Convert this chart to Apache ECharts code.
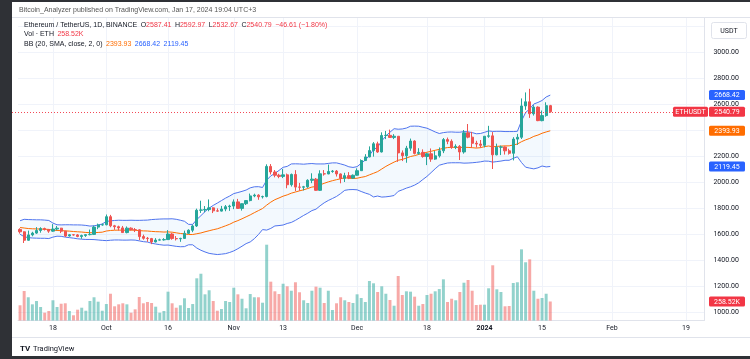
<!DOCTYPE html>
<html><head><meta charset="utf-8">
<script src="https://cdn.jsdelivr.net/npm/echarts@6/dist/echarts.min.js"></script>
<style>html,body{margin:0;padding:0;background:#fff;overflow:hidden}#c{width:750px;height:359px}</style>
</head><body><div id="c"></div>
<script>
// ---- data (ETH/USDT, 1D, Binance) ----
const firstDay = [2023, 8, 10];   // Sep 10 2023, first category
const dayCount = 167;              // categories shown on the time axis (through Feb 23 2024)
const tickDates = ['2023-09-18','2023-10-01','2023-10-16','2023-11-01','2023-11-13','2023-12-01','2023-12-18','2024-01-01','2024-01-15','2024-02-01','2024-02-19'];
const tickLabels = ['18','Oct','16','Nov','13','Dec','18','2024','15','Feb','19'];
const priceTicks = [1000,1200,1400,1600,1800,2000,2200,2400,2600,2800,3000,3200];
const priceLabels = [1000,1200,1400,1600,1800,2000,2200,2600,2800,3000];

const opens = [1635,1617,1552,1593,1607,1627,1642,1635,1622,1638,1645,1622,1585,1594,1593,1581,1588,1595,1597,1653,1670,
1671,1733,1663,1656,1647,1611,1645,1633,1632,1580,1567,1565,1539,1553,1555,1557,1600,1565,1563,1566,1605,1629,1662,1783,1785,1788,1801,1778,1776,1792,1810,
1815,1847,1797,1833,1857,1893,1899,1886,1888,2120,2077,2052,2043,2055,1979,2058,1961,1960,1963,2013,2022,1936,2063,2062,2081,2084,2062,2028,2049,2030,
2052,2087,2165,2193,2242,2294,2231,2358,2359,2343,2352,2224,2202,2260,2315,2220,2228,2196,2217,2176,2201,2240,2326,2313,2267,2274,2231,2378,2345,2298,2292,
2282,2352,2355,2209,2268,2269,2240,2221,2330,2344,2585,2617,2525,2576,2472,2511,2587.41];
const closes = [1617,1552,1593,1607,1627,1642,1635,1622,1638,1645,1622,1585,1594,1593,1581,1588,1595,1597,1653,1670,1671,
1733,1663,1656,1647,1611,1645,1633,1632,1580,1567,1565,1539,1553,1555,1557,1600,1565,1563,1566,1605,1629,1662,1783,1785,1788,1801,1778,1776,1792,1810,1815,
1847,1797,1833,1857,1893,1899,1886,1888,2120,2077,2052,2043,2055,1979,2058,1961,1960,1963,2013,2022,1936,2063,2062,2081,2084,2062,2028,2049,2030,2052,
2087,2165,2193,2242,2294,2231,2358,2359,2343,2352,2224,2202,2260,2315,2220,2228,2196,2217,2176,2201,2240,2326,2313,2267,2274,2231,2378,2345,2298,2292,2282,
2352,2355,2209,2268,2269,2240,2221,2330,2344,2585,2617,2525,2576,2472,2511,2587.40,2540.79];
const highs = [1644,1620,1626,1617,1653,1652,1649,1636,1676,1662,1647,1624,1600,1598,1600,1595,1598,1634,1664,1680,1681,
1750,1747,1670,1664,1662,1658,1651,1646,1636,1595,1577,1570,1568,1564,1568,1630,1607,1584,1571,1626,1636,1672,1795,1856,1815,1866,1805,1797,1816,1823,1825,
1866,1870,1835,1858,1911,1910,1906,1895,2136,2138,2092,2063,2100,2065,2065,2091,1993,1970,2021,2067,2031,2090,2092,2134,2092,2092,2066,2071,2076,2058,
2105,2174,2214,2274,2307,2310,2382,2393,2403,2368,2353,2243,2278,2334,2321,2260,2251,2222,2258,2238,2266,2338,2342,2328,2290,2284,2400,2446,2386,2317,2323,
2353,2432,2384,2295,2280,2273,2256,2345,2370,2643,2689,2717,2591,2582,2550,2613,2592.97];
const lows = [1603,1531,1549,1582,1601,1610,1627,1609,1617,1628,1607,1577,1580,1587,1575,1563,1578,1590,1592,1637,1664,
1667,1652,1632,1626,1610,1605,1628,1615,1553,1556,1540,1522,1535,1550,1549,1555,1556,1550,1540,1562,1600,1614,1654,1762,1767,1775,1761,1771,1773,1775,1778,
1791,1793,1780,1823,1851,1883,1863,1873,1882,2058,2036,2029,2030,1952,1965,1930,1932,1935,1955,1991,1932,1931,2049,2060,2071,2042,1990,2000,2022,2025,
2049,2085,2162,2190,2195,2224,2227,2330,2340,2330,2155,2161,2148,2240,2212,2210,2187,2130,2155,2170,2188,2222,2291,2255,2253,2169,2218,2336,2265,2265,2263,
2266,2340,2100,2205,2207,2211,2211,2166,2285,2331,2555,2493,2511,2468,2467,2502,2532.67];
// volume, thousands of ETH
const volumes = [207,401,316,220,265,184,106,129,275,184,228,234,129,71,147,174,133,265,316,256,133,
224,364,193,220,234,220,106,152,320,234,252,238,188,106,129,392,234,174,207,302,170,224,574,636,356,411,265,133,156,265,252,
446,356,296,166,360,316,316,242,1031,528,397,360,500,465,405,520,384,275,238,405,460,446,238,405,143,234,316,275,252,238,
356,306,252,537,506,388,465,364,279,201,605,347,397,392,324,201,224,347,364,397,428,560,252,296,275,388,514,551,405,211,215,
215,438,751,424,388,193,197,510,520,968,792,832,405,296,306,364,258.52];
// Bollinger Bands (20, SMA, close, 2)
const bbBasis = [1650,1646,1642,1640,1639,1638,1637,1635,1630,1627,1626,1624,1622,1619,1617,1615,1612,1610,1610,1612,
1614,1623,1627,1629,1630,1629,1629,1630,1629,1626,1624,1623,1620,1618,1617,1615,1616,1614,1609,1604,
1601,1596,1596,1602,1608,1617,1625,1633,1640,1651,1663,1675,1691,1703,1717,1732,1747,1764,1780,1796,
1822,1845,1864,1877,1891,1901,1914,1923,1932,1940,1950,1961,1965,1978,1990,2001,2010,2018,2025,2033,
2029,2027,2029,2036,2042,2055,2067,2080,2100,2120,2137,2153,2167,2174,2184,2196,2203,2212,2220,2229,
2236,2244,2251,2259,2265,2267,2266,2266,2267,2266,2264,2261,2264,2272,2277,2271,2274,2276,2278,2278,
2285,2292,2310,2324,2335,2351,2361,2375,2385,2393.93];
const bbUpper = [1702,1713,1711,1710,1709,1709,1707,1704,1684,1671,1670,1671,1671,1670,1670,1669,1666,1661,1663,1669,
1677,1697,1701,1704,1706,1705,1705,1706,1705,1705,1706,1707,1711,1713,1715,1716,1716,1717,1713,1706,
1698,1674,1674,1711,1741,1772,1799,1820,1838,1857,1876,1892,1911,1919,1928,1938,1955,1963,1964,1958,
2014,2047,2066,2089,2113,2120,2139,2140,2139,2137,2140,2142,2139,2139,2139,2143,2147,2147,2139,2130,
2117,2112,2118,2144,2169,2205,2249,2268,2316,2354,2383,2410,2406,2408,2415,2429,2430,2429,2421,2414,
2400,2385,2373,2380,2384,2385,2383,2383,2388,2386,2380,2371,2373,2382,2393,2389,2390,2390,2388,2388,
2388,2390,2470,2534,2563,2600,2612,2627,2654,2668.42];
const bbLower = [1598,1579,1572,1569,1568,1567,1567,1565,1576,1583,1582,1576,1572,1568,1563,1560,1558,1558,1557,1554,
1551,1549,1552,1554,1554,1553,1553,1554,1553,1547,1541,1538,1529,1523,1518,1514,1515,1510,1505,1502,
1503,1517,1517,1492,1475,1462,1451,1446,1442,1445,1449,1458,1470,1487,1506,1526,1539,1564,1596,1634,
1630,1643,1662,1665,1669,1681,1689,1705,1724,1743,1760,1780,1791,1817,1840,1858,1873,1889,1911,1936,
1941,1942,1940,1927,1915,1905,1885,1892,1884,1886,1890,1896,1928,1940,1953,1963,1976,1994,2019,2043,
2072,2102,2129,2138,2146,2148,2148,2148,2145,2146,2148,2151,2155,2161,2160,2153,2157,2161,2167,2167,
2182,2194,2150,2114,2107,2101,2109,2123,2116,2119.45];

// ---- styles ----
const UP = '#26a69a', DOWN = '#ef5350';
const UP_VOL = 'rgba(38,166,154,0.5)', DOWN_VOL = 'rgba(239,83,80,0.5)';
const RED = '#f23645', BLUE = '#2962ff', ORANGE = '#ff6d00', TXT = '#131722';
const FONT = 'Roboto, "Open Sans", sans-serif';

// ---- build ----
const categories = [];
const t0 = Date.UTC(firstDay[0], firstDay[1], firstDay[2]);
for (let i = 0; i < dayCount; i++) categories.push(new Date(t0 + i * 86400000).toISOString().slice(0, 10));
const tickMap = {};
tickDates.forEach((d, i) => tickMap[d] = tickLabels[i]);
const isTick = (idx, val) => tickMap[val] !== undefined;

const candleData = opens.map((o, i) => [o, closes[i], lows[i], highs[i]]);
const volData = volumes.map((v, i) => ({ value: v, itemStyle: { color: closes[i] >= opens[i] ? UP_VOL : DOWN_VOL } }));
const bandGap = bbUpper.map((u, i) => u - bbLower[i]);

const last = closes.length - 1;
const chg = closes[last] - closes[last - 1];
const pct = chg / closes[last - 1] * 100;
const fmtSigned = v => (v < 0 ? '\u2212' : '+') + Math.abs(v).toFixed(2);

const gridColor = '#f0f3fa';
const lineColors = priceTicks.map(() => gridColor);
lineColors.unshift('rgba(0,0,0,0)'); lineColors.push('rgba(0,0,0,0)');

const chart = echarts.init(document.getElementById('c'), null, { renderer: 'canvas' });
const option = {
  animation: false,
  backgroundColor: '#ffffff',
  textStyle: { fontFamily: FONT },
  grid: [
    { left: 18, right: 45.6, top: 0, bottom: 21 },
    { left: 18, right: 45.6, top: 17, bottom: 38.5 }
  ],
  xAxis: [
    { type: 'category', gridIndex: 0, data: categories, boundaryGap: true,
      axisLine: { show: false }, axisTick: { show: false }, axisLabel: { show: false }, splitLine: { show: false } },
    { type: 'category', gridIndex: 1, data: categories, boundaryGap: true,
      axisLine: { show: true, lineStyle: { color: '#e0e3eb', width: 1 } },
      axisTick: { show: false },
      axisLabel: { interval: isTick, color: TXT, fontSize: 7, margin: 4, fontFamily: FONT,
        formatter: v => v === '2024-01-01' ? '{y|' + tickMap[v] + '}' : (tickMap[v] || ''),
        rich: { y: { fontWeight: 'bold', fontSize: 7, color: TXT, fontFamily: FONT } } },
      splitLine: { show: true, interval: isTick, alignWithLabel: true, lineStyle: { color: gridColor, width: 1 } } }
  ],
  yAxis: [
    { type: 'value', gridIndex: 0, position: 'right', min: 800, max: 3400, interval: 200, scale: false,
      axisLine: { show: false }, axisTick: { show: false },
      axisLabel: { color: TXT, fontSize: 7, margin: 9, fontFamily: FONT,
        formatter: v => priceLabels.indexOf(v) >= 0 ? v.toFixed(2) : '' },
      splitLine: { show: true, lineStyle: { color: lineColors, width: 1 } } },
    { type: 'value', gridIndex: 1, position: 'right', min: 0, max: 4128,
      axisLine: { show: true, lineStyle: { color: '#e0e3eb' } }, axisTick: { show: false }, axisLabel: { show: false }, splitLine: { show: false } }
  ],
  series: [
    { name: 'vol', type: 'bar', xAxisIndex: 1, yAxisIndex: 1, data: volData, barWidth: '72%', z: 1, silent: true },
    { name: 'bbBase', type: 'line', xAxisIndex: 0, yAxisIndex: 0, data: bbLower, stack: 'bb', symbol: 'none',
      lineStyle: { opacity: 0 }, z: 2, silent: true },
    { name: 'bbFill', type: 'line', xAxisIndex: 0, yAxisIndex: 0, data: bandGap, stack: 'bb', symbol: 'none',
      lineStyle: { opacity: 0 }, areaStyle: { color: 'rgba(33,150,243,0.08)' }, z: 2, silent: true },
    { name: 'bbUpper', type: 'line', xAxisIndex: 0, yAxisIndex: 0, data: bbUpper, symbol: 'none',
      lineStyle: { color: '#4f74ee', width: 1 }, z: 3, silent: true },
    { name: 'bbLower', type: 'line', xAxisIndex: 0, yAxisIndex: 0, data: bbLower, symbol: 'none',
      lineStyle: { color: '#4f74ee', width: 1 }, z: 3, silent: true },
    { name: 'bbBasis', type: 'line', xAxisIndex: 0, yAxisIndex: 0, data: bbBasis, symbol: 'none',
      lineStyle: { color: ORANGE, width: 1 }, z: 3, silent: true },
    { name: 'ETHUSDT', type: 'candlestick', xAxisIndex: 0, yAxisIndex: 0, data: candleData, barWidth: '68%', z: 5,
      itemStyle: { color: UP, color0: DOWN, borderColor: UP, borderColor0: DOWN, borderWidth: 1 } }
  ]
};
chart.setOption(option);

// ---- overlay text / tags (positions from the chart's own scales) ----
const yP = v => chart.convertToPixel({ yAxisIndex: 0 }, v);
const yV = v => chart.convertToPixel({ yAxisIndex: 1 }, v);
const tag = (text, color, x, yc, w) => ({
  type: 'group', z: 100, children: [
    { type: 'rect', z: 100, shape: { x: x, y: yc - 5, width: w, height: 10, r: 1.5 }, style: { fill: color } },
    { type: 'text', z: 101, style: { text: text, x: x + w / 2, y: yc + 0.5, fill: '#fff', font: '7px ' + FONT,
      textAlign: 'center', align: 'center', textVerticalAlign: 'middle', verticalAlign: 'middle' } }
  ]
});
const rt = (txt, x, y, rich) => ({ type: 'text', z: 100, style: { text: txt, x: x, y: y, font: '7px ' + FONT, fill: TXT,
  textVerticalAlign: 'middle', verticalAlign: 'middle', rich: rich } });
const richStyles = {
  d: { fill: TXT, font: '7px ' + FONT, fontSize: 7, color: TXT },
  r: { fill: RED, font: '7px ' + FONT, fontSize: 7, color: RED },
  o: { fill: ORANGE, font: '7px ' + FONT, fontSize: 7, color: ORANGE },
  b: { fill: BLUE, font: '7px ' + FONT, fontSize: 7, color: BLUE },
  g: { fill: '#555', font: '7px ' + FONT, fontSize: 7, color: '#555' }
};
const n2 = v => v.toFixed(2);
const line1 = '{d|Ethereum / TetherUS, 1D, BINANCE}  {d|O}{r|' + n2(opens[last]) + '}  {d|H}{r|' + n2(highs[last]) +
  '}  {d|L}{r|' + n2(lows[last]) + '}  {d|C}{r|' + n2(closes[last]) + '}  {r|' + fmtSigned(chg) + ' (' + fmtSigned(pct) + '%)}';
const line2 = '{d|Vol \u00b7 ETH}  {r|' + n2(volumes[last]) + 'K}';
const line3 = '{d|BB (20, SMA, close, 2, 0)}  {o|' + n2(bbBasis[last]) + '}  {b|' + n2(bbUpper[last]) + '}  {b|' + n2(bbLower[last]) + '}';
const lastY = Math.round(yP(closes[last])) + 0.5;
const gridRight = chart.convertToPixel({ xAxisIndex: 0 }, categories[dayCount - 1]) + 2;

const graphics = [
  // last-price dotted line across the pane
  { type: 'line', z: 60, silent: true, shape: { x1: 12, y1: lastY, x2: gridRight, y2: lastY },
    style: { stroke: RED, lineWidth: 1, lineDash: [1, 2], opacity: 0.9 } },
  // screenshot frame
  { type: 'rect', z: 120, shape: { x: 0, y: 0, width: 12, height: 359 }, style: { fill: '#2f3136' } },
  { type: 'rect', z: 120, shape: { x: 0, y: 0, width: 750, height: 2 }, style: { fill: '#2f3136' } },
  { type: 'rect', z: 120, shape: { x: 0, y: 356, width: 750, height: 3 }, style: { fill: '#2f3136' } },
  // white header strip above pane
  { type: 'rect', z: 90, shape: { x: 12, y: 2, width: 738, height: 15 }, style: { fill: '#ffffff' } },
  { type: 'rect', z: 90, shape: { x: 12, y: 339, width: 738, height: 17 }, style: { fill: '#ffffff' } },
  { type: 'line', z: 91, shape: { x1: 12, y1: 17.5, x2: 750, y2: 17.5 }, style: { stroke: '#e0e3eb', lineWidth: 1 } },
  { type: 'line', z: 91, shape: { x1: 12, y1: 337.5, x2: 750, y2: 337.5 }, style: { stroke: '#e0e3eb', lineWidth: 1 } },
  rt('{g|Bitcoin_Analyzer published on TradingView.com, Jan 17, 2024 19:04 UTC+3}', 19, 10, richStyles),
  rt(line1, 24, 25, richStyles),
  rt(line2, 24, 34.5, richStyles),
  rt(line3, 24, 44, richStyles),
  // price-scale unit box
  { type: 'rect', z: 100, shape: { x: 711.5, y: 22.5, width: 35, height: 16, r: 2 }, style: { fill: '#fff', stroke: '#e0e3eb', lineWidth: 1 } },
  { type: 'text', z: 101, style: { text: 'USDT', x: 729, y: 31, fill: TXT, font: '7px ' + FONT, textAlign: 'center', align: 'center', textVerticalAlign: 'middle', verticalAlign: 'middle' } },
  // value tags
  tag(n2(bbUpper[last]), BLUE, 709, yP(bbUpper[last]), 36),
  tag('ETHUSDT', RED, 673, yP(closes[last]), 35),
  tag(n2(closes[last]), RED, 709, yP(closes[last]), 36),
  tag(n2(bbBasis[last]), ORANGE, 709, yP(bbBasis[last]), 36),
  tag(n2(bbLower[last]), BLUE, 709, yP(bbLower[last]), 36),
  tag(n2(volumes[last]) + 'K', RED, 709, yV(volumes[last]), 36),
  // TradingView logo
  { type: 'text', z: 101, style: { text: 'TV', x: 20, y: 349, fill: TXT, font: 'bold 8px ' + FONT, textVerticalAlign: 'middle', verticalAlign: 'middle' } },
  { type: 'text', z: 101, style: { text: 'TradingView', x: 33, y: 349, fill: TXT, font: '7.5px ' + FONT, textVerticalAlign: 'middle', verticalAlign: 'middle' } }
];
chart.setOption({ graphic: graphics });
</script>
</body></html>
